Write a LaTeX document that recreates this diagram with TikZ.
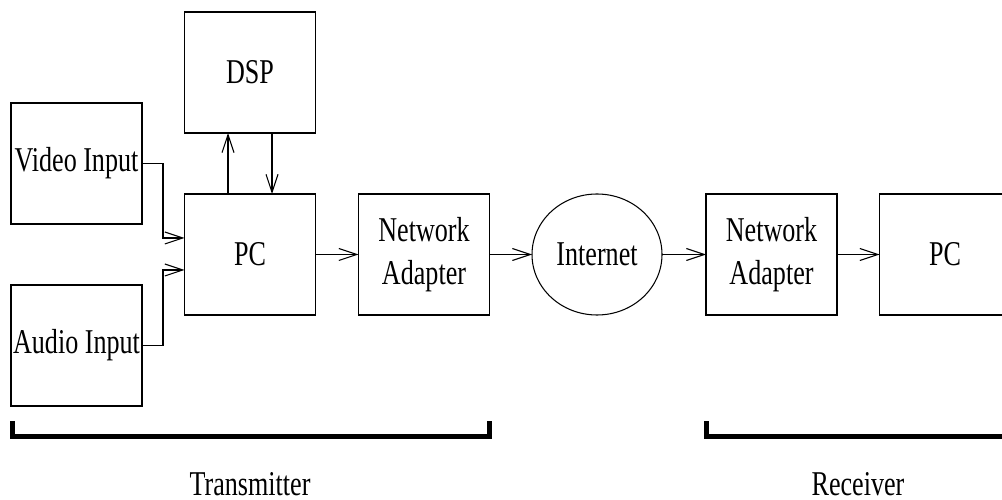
\documentclass[tikz,border=0pt]{standalone}
\usepackage{fontspec}
\setmainfont{Liberation Serif}[FakeStretch=0.75]
\usetikzlibrary{arrows.meta,shapes.geometric}

\begin{document}
\begin{tikzpicture}[
  block/.style={rectangle,draw,line width=0.6pt,minimum width=2.62cm,
    minimum height=2.42cm,inner sep=0pt,outer sep=0pt,align=center,
    font=\fontsize{19.8}{24.4}\selectfont},
  cloud/.style={ellipse,draw,line width=0.6pt,minimum width=2.6cm,
    minimum height=2.42cm,inner sep=0pt,outer sep=0pt,
    font=\fontsize{19.8}{24.4}\selectfont},
  flow/.style={line width=0.6pt,-{Straight Barb[length=0.36cm,width=0.24cm]}},
  brace/.style={line width=0.1cm,line join=miter},
  label/.style={anchor=base,inner sep=0pt,font=\fontsize{19.8}{24.4}\selectfont}
]
  \useasboundingbox (0,0) rectangle (20.04,-10);

  \node[block] (vin) at (1.53, -3.27) {Video Input};
  \node[block] (ain) at (1.53, -6.91) {Audio Input};
  \node[block] (dsp) at (5.0, -1.45) {DSP};
  \node[block] (pc) at (5.0, -5.09) {PC};
  \node[block] (na1) at (8.48, -5.09) {Network\\Adapter};
  \node[cloud] (net) at (11.94, -5.09) {Internet};
  \node[block] (na2) at (15.43, -5.09) {Network\\Adapter};
  \node[block] (pc2) at (18.9, -5.09) {PC};

  \draw[flow] (vin.east) -- ++(0.42,0) |- ([yshift=0.33cm]pc.west);
  \draw[flow] (ain.east) -- ++(0.42,0) |- ([yshift=-0.31cm]pc.west);
  \draw[flow] ([xshift=-0.44cm]pc.north) -- ([xshift=-0.44cm]dsp.south);
  \draw[flow] ([xshift=0.44cm]dsp.south) -- ([xshift=0.44cm]pc.north);
  \draw[flow] (pc) -- (na1);
  \draw[flow] (na1) -- (net);
  \draw[flow] (net) -- (na2);
  \draw[flow] (na2) -- (pc2);

  % sides
  \draw[brace] (0.24,-8.42) -- (0.24,-8.72) -- (9.78,-8.72) -- (9.78,-8.42);
  \draw[brace] (14.13,-8.42) -- (14.13,-8.72) -- (20.6,-8.72);
  \node[label] (tx) at (5.0, -9.9) {Transmitter};
  \node[label] (rx) at (17.16, -9.9) {Receiver};
\end{tikzpicture}
\end{document}
